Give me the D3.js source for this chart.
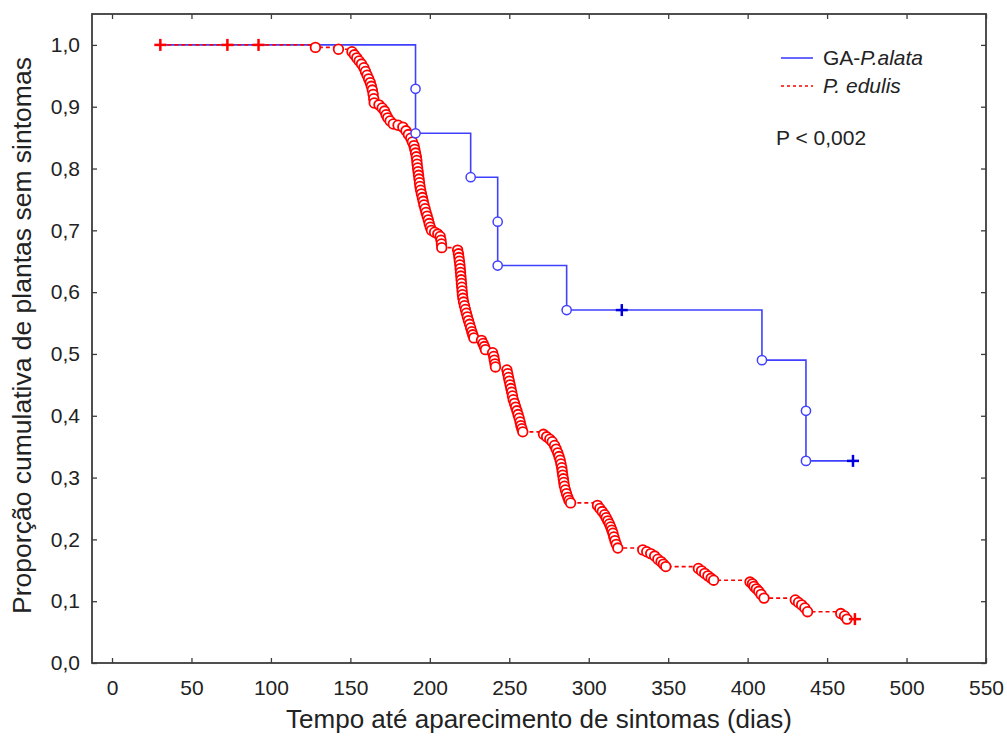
<!DOCTYPE html>
<html><head><meta charset="utf-8">
<script src="https://cdn.jsdelivr.net/npm/d3@7"></script>
<style>body{margin:0;background:#fff} svg{display:block;font-family:"Liberation Sans",Arial,sans-serif}</style>
</head><body><svg id="c" width="1007" height="742"></svg>
<script>
// ---------------- data ----------------
const xTicks = [0,50,100,150,200,250,300,350,400,450,500,550];
const yTicks = [0,0.1,0.2,0.3,0.4,0.5,0.6,0.7,0.8,0.9,1.0];
const seriesNames = ["GA-", "P.alata", "P. edulis"];
const pValueText = "P < 0,002";

// GA-P.alata (blue): start, events (time, survival), censored
const blueStart = [30.4, 1.0];
const blueEvents = [[191,0.929],[191,0.857],[225.7,0.786],[242.7,0.714],[242.7,0.643],[286.1,0.571],[409,0.490],[436.7,0.408],[436.7,0.327]];
const blueCensored = [[320.8,0.571],[466.3,0.327]];

// P. edulis (red)
const redStart = [30.4, 1.0];
const redCensored = [[30.4,1.0],[72.6,1.0],[92.2,1.0],[467.5,0.071]];
const redEvents = [
 [128,0.996],[142.5,0.993],
 [151,0.989],[152.5,0.984],[154,0.979],[155.5,0.974],[157,0.969],[158.5,0.963],[159.5,0.957],[160.5,0.951],[161.5,0.945],[162.5,0.939],[163.2,0.933],[163.8,0.927],[164.3,0.920],[164.7,0.913],[165,0.906],
 [168,0.903],[170,0.898],[171.5,0.893],[172.5,0.887],[173.5,0.882],[175,0.877],[177,0.872],[180,0.870],[183,0.867],[185,0.861],[186.5,0.855],[188,0.849],[189,0.843],[190,0.837],[190.5,0.831],[191,0.825],[191.5,0.819],[191.8,0.813],[192,0.807],[192.3,0.801],[192.6,0.795],[192.9,0.789],[193.2,0.783],[193.5,0.777],[193.8,0.771],[194.2,0.765],[194.7,0.759],[195.3,0.753],[195.8,0.747],[196.3,0.741],[197,0.735],[197.6,0.729],[198.3,0.723],[199,0.717],[199.6,0.711],[200.3,0.705],[201,0.700],[203,0.697],[205,0.694],[206.5,0.690],[207,0.684],[207.3,0.678],[207.5,0.672],
 [217.5,0.668],[218,0.662],[218.3,0.656],[218.6,0.650],[218.9,0.644],[219.1,0.638],[219.3,0.632],[219.5,0.626],[219.7,0.620],[219.9,0.614],[220.1,0.608],[220.3,0.602],[220.5,0.596],[220.8,0.590],[221.2,0.584],[221.8,0.578],[222.4,0.572],[223,0.566],[223.6,0.560],[224.3,0.554],[225,0.548],[225.7,0.542],[226.4,0.536],[227,0.531],[227.7,0.526],
 [232.5,0.522],[233.5,0.517],[234.3,0.512],[235,0.507],
 [239.5,0.502],[240.2,0.496],[240.6,0.490],[241,0.484],[241.3,0.479],
 [248.5,0.474],[249,0.468],[249.5,0.462],[250,0.456],[250.5,0.450],[251,0.444],[251.5,0.438],[252,0.432],[252.5,0.426],[253.3,0.420],[254,0.414],[254.8,0.408],[255.5,0.402],[256.2,0.396],[256.8,0.390],[257.3,0.384],[257.9,0.379],[258.5,0.374],
 [271.5,0.370],[273.5,0.366],[275.5,0.362],[277,0.358],[278.5,0.352],[279.5,0.346],[280.5,0.340],[281.3,0.334],[282,0.328],[282.5,0.322],[283,0.316],[283.3,0.310],[283.6,0.304],[284,0.298],[284.3,0.292],[284.7,0.286],[285.3,0.280],[286,0.274],[286.8,0.268],[287.6,0.263],[288.6,0.259],
 [305.5,0.255],[307,0.250],[308.5,0.245],[310,0.240],[311,0.235],[312,0.230],[313,0.225],[313.8,0.220],[314.5,0.215],[315.2,0.210],[315.8,0.204],[316.5,0.198],[317.3,0.192],[318.3,0.186],
 [334,0.183],[336.5,0.180],[339,0.177],[341.5,0.173],[343.5,0.168],[345.5,0.164],[347,0.160],[348.5,0.156],
 [369,0.153],[371,0.149],[373,0.145],[375,0.141],[377,0.137],[378.6,0.134],
 [401.5,0.131],[403,0.128],[404,0.124],[405.5,0.120],[407,0.116],[408.5,0.111],[410.3,0.105],
 [430,0.102],[432,0.098],[434,0.094],[436,0.089],[437.7,0.083],
 [458.6,0.080],[461,0.076],[462.5,0.071]
];

// ---------------- layout ----------------
const W = 1007, H = 742;
const pL = 92, pR = 986, pT = 14, pB = 663;
const svg = d3.select("#c");
const x = d3.scaleLinear().domain([-12.6, 550]).range([pL, pR]);
const y = d3.scaleLinear().domain([0, 1.05]).range([pB, pT]);
const blue = "#4040ff", blueDark = "#0000dd", red = "#ff0000", ink = "#222";

// frame
svg.append("rect").attr("x", pL).attr("y", pT).attr("width", pR-pL).attr("height", pB-pT)
  .attr("fill", "none").attr("stroke", "#3c3c3c").attr("stroke-width", 1.8);

const fmt = v => d3.format(".1f")(v).replace(".", ",");

// axes (ticks inward, mirrored)
const gx = svg.append("g").attr("transform", `translate(0,${pB})`)
  .call(d3.axisBottom(x).tickValues(xTicks).tickSize(-5).tickPadding(17).tickFormat(d3.format("d")));
const gy = svg.append("g").attr("transform", `translate(${pL},0)`)
  .call(d3.axisLeft(y).tickValues(yTicks).tickSize(-5).tickPadding(12).tickFormat(fmt));
const gxt = svg.append("g").attr("transform", `translate(0,${pT})`)
  .call(d3.axisTop(x).tickValues(xTicks).tickSize(-5).tickFormat(""));
const gyr = svg.append("g").attr("transform", `translate(${pR},0)`)
  .call(d3.axisRight(y).tickValues(yTicks).tickSize(-5).tickFormat(""));
[gx, gy, gxt, gyr].forEach(g => {
  g.select(".domain").remove();
  g.selectAll(".tick line").attr("stroke", "#3c3c3c").attr("stroke-width", 1.3);
  g.selectAll("text").attr("fill", ink).style("font-size", "21px").style("font-family", '"Liberation Sans", Arial, sans-serif');
});

// axis titles
svg.append("text").attr("x", (pL+pR)/2).attr("y", 728).attr("text-anchor", "middle")
  .attr("fill", ink).style("font-size", "26px").text("Tempo até aparecimento de sintomas (dias)");
svg.append("text").attr("transform", `translate(31,${(pT+pB)/2 - 3}) rotate(-90)`).attr("text-anchor", "middle")
  .attr("fill", ink).style("font-size", "26.5px").text("Proporção cumulativa de plantas sem sintomas");

// KM curves
const stepLine = d3.line().x(d => x(d[0])).y(d => y(d[1])).curve(d3.curveStepAfter);
function kmPath(start, events, censored) {
  const pts = [start].concat(events, censored.filter(c => c[0] > start[0]));
  return pts.sort((a, b) => a[0] - b[0] || b[1] - a[1]);
}
const plot = svg.append("g");
plot.append("path").attr("d", stepLine(kmPath(blueStart, blueEvents, blueCensored)))
  .attr("fill", "none").attr("stroke", blue).attr("stroke-width", 1.6);
plot.append("path").attr("d", stepLine(kmPath(redStart, redEvents, redCensored)))
  .attr("fill", "none").attr("stroke", red).attr("stroke-width", 1.6).attr("stroke-dasharray", "4,3");

// markers
plot.selectAll("circle.red").data(redEvents).join("circle").attr("class", "red")
  .attr("cx", d => x(d[0])).attr("cy", d => y(d[1])).attr("r", 4.8)
  .attr("fill", "#fff").attr("stroke", red).attr("stroke-width", 1.8);
plot.selectAll("circle.blue").data(blueEvents).join("circle").attr("class", "blue")
  .attr("cx", d => x(d[0])).attr("cy", d => y(d[1])).attr("r", 4.6)
  .attr("fill", "#fff").attr("stroke", blue).attr("stroke-width", 1.5);
const plus = (sel, data, col) => {
  const g = sel.selectAll(null).data(data).join("g").attr("transform", d => `translate(${x(d[0])},${y(d[1])})`);
  g.append("line").attr("x1", -6).attr("x2", 6).attr("stroke", col).attr("stroke-width", 2.5);
  g.append("line").attr("y1", -6).attr("y2", 6).attr("stroke", col).attr("stroke-width", 2.5);
};
plus(plot, redCensored, red);
plus(plot, blueCensored, blueDark);

// legend
const lg = svg.append("g");
lg.append("line").attr("x1", 781).attr("x2", 813).attr("y1", 58).attr("y2", 58).attr("stroke", blue).attr("stroke-width", 1.6);
lg.append("line").attr("x1", 781).attr("x2", 813).attr("y1", 86).attr("y2", 86).attr("stroke", red).attr("stroke-width", 1.4).attr("stroke-dasharray", "3,3");
const t1 = lg.append("text").attr("x", 823).attr("y", 65).attr("fill", ink).style("font-size", "21px");
t1.append("tspan").text(seriesNames[0]);
t1.append("tspan").style("font-style", "italic").text(seriesNames[1]);
lg.append("text").attr("x", 823).attr("y", 93).attr("fill", ink).style("font-size", "21px").style("font-style", "italic").text(seriesNames[2]);
lg.append("text").attr("x", 776).attr("y", 145).attr("fill", ink).style("font-size", "21px").text(pValueText);
</script></body></html>
